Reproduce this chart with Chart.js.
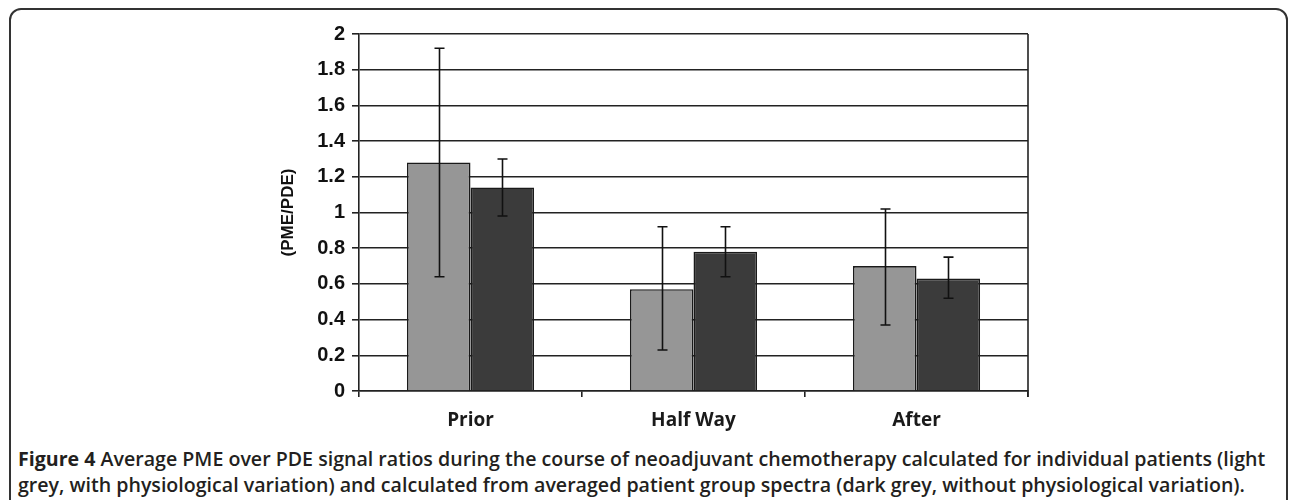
<!DOCTYPE html>
<html>
<head>
<meta charset="utf-8">
<script src="https://cdn.jsdelivr.net/npm/chart.js@4.4.1/dist/chart.umd.min.js"></script>
<style>
  html, body { margin: 0; padding: 0; background: #fff; }
  body { width: 1292px; height: 500px; position: relative; overflow: hidden; }
  #frame { position: absolute; left: 9px; top: 8px; width: 1279px; height: 520px;
           border: 2px solid #333; border-radius: 12px; box-sizing: border-box; }
  #wrap { position: absolute; left: 0; top: 0; width: 1292px; height: 440px; }
  #caption { position: absolute; left: 18px; top: 446px; width: 1272px; white-space: nowrap;
             font-family: "Open Sans", sans-serif; font-weight: 600; font-size: 19.6px;
             line-height: 26px; color: #231f20; }
  #caption b { font-weight: 700; }
</style>
</head>
<body>
<div id="frame"></div>
<div id="wrap"><canvas id="c" width="1292" height="440"></canvas></div>
<div id="caption"><b>Figure 4</b> Average PME over PDE signal ratios during the course of neoadjuvant chemotherapy calculated for individual patients (light<br>grey, with physiological variation) and calculated from averaged patient group spectra (dark grey, without physiological variation).</div>
<script>
const categories = ["Prior", "Half Way", "After"];
const lightValues = [1.28, 0.57, 0.70];
const lightErrLow = [0.64, 0.23, 0.37];
const lightErrHigh = [1.92, 0.92, 1.02];
const darkValues = [1.14, 0.78, 0.63];
const darkErrLow = [0.98, 0.64, 0.52];
const darkErrHigh = [1.30, 0.92, 0.75];
const yAxisTitle = "(PME/PDE)";

const errorBars = {
  id: 'errorBars',
  afterDatasetsDraw(chart) {
    const ctx = chart.ctx;
    const y = chart.scales.y;
    ctx.save();
    ctx.strokeStyle = '#111';
    ctx.lineWidth = 1.6;
    chart.data.datasets.forEach((ds, di) => {
      const meta = chart.getDatasetMeta(di);
      meta.data.forEach((bar, i) => {
        const x = Math.round(bar.x) + 0.5;
        const yl = y.getPixelForValue(ds.errLow[i]);
        const yh = y.getPixelForValue(ds.errHigh[i]);
        const cap = 5;
        ctx.beginPath();
        ctx.moveTo(x, yl); ctx.lineTo(x, yh);
        ctx.moveTo(x - cap, yl); ctx.lineTo(x + cap, yl);
        ctx.moveTo(x - cap, yh); ctx.lineTo(x + cap, yh);
        ctx.stroke();
      });
    });
    const a = chart.chartArea;
    ctx.strokeStyle = '#222';
    ctx.lineWidth = 1.6;
    ctx.beginPath();
    ctx.moveTo(a.right, a.top); ctx.lineTo(a.right, a.bottom + 6);
    ctx.stroke();
    ctx.restore();
  }
};

new Chart(document.getElementById('c'), {
  type: 'bar',
  data: {
    labels: categories,
    datasets: [
      { label: 'light', data: lightValues, errLow: lightErrLow, errHigh: lightErrHigh,
        backgroundColor: '#969696', borderColor: '#1a1a1a', borderWidth: 1.6 },
      { label: 'dark', data: darkValues, errLow: darkErrLow, errHigh: darkErrHigh,
        backgroundColor: '#3b3b3b', borderColor: '#1a1a1a', borderWidth: 1.6 }
    ]
  },
  options: {
    responsive: false,
    animation: false,
    layout: { padding: { left: 278, right: 264, top: 34, bottom: 0 } },
    plugins: { legend: { display: false }, tooltip: { enabled: false } },
    datasets: { bar: { categoryPercentage: 0.57, barPercentage: 1.0 } },
    scales: {
      x: {
        grid: { display: true, drawOnChartArea: false, drawTicks: true, tickLength: 6,
                color: '#222', lineWidth: 1.6, offset: true },
        border: { display: true, color: '#222', width: 1.6 },
        ticks: { color: '#1a1a1a', padding: 12,
                 font: { family: '"Open Sans", sans-serif', size: 19, weight: '700' } },
        afterFit(scale) { scale.height = 49; }
      },
      y: {
        min: 0, max: 2,
        ticks: { stepSize: 0.2, color: '#111', padding: 7,
                 font: { family: 'Arial, "Liberation Sans", sans-serif', size: 20, weight: 'bold' },
                 callback: v => String(Number(v.toFixed(1))) },
        grid: { color: '#222', lineWidth: 1.6, tickLength: 7 },
        border: { display: true, color: '#222', width: 1.6 },
        title: { display: true, text: yAxisTitle, color: '#111', padding: { top: 0, bottom: 0 },
                 font: { family: 'Arial, "Liberation Sans", sans-serif', size: 17, weight: 'bold' } },
        afterFit(scale) { scale.width = 81; }
      }
    }
  },
  plugins: [errorBars]
});
</script>
</body>
</html>
